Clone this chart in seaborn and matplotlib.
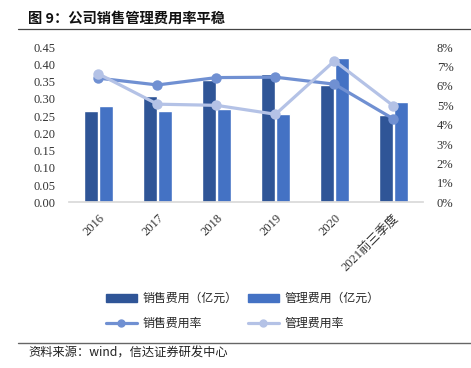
import pandas as pd
import matplotlib
matplotlib.use("Agg")
import matplotlib.pyplot as plt
import seaborn as sns
from matplotlib.lines import Line2D
from matplotlib.ticker import PercentFormatter, FormatStrFormatter

# data
years = ["2016", "2017", "2018", "2019", "2020", "2021前三季度"]
sales_cost = [0.266, 0.307, 0.355, 0.371, 0.340, 0.252]
mgmt_cost = [0.279, 0.264, 0.272, 0.255, 0.418, 0.290]
sales_rate = [0.0640, 0.0605, 0.0643, 0.0645, 0.0609, 0.0430]
mgmt_rate = [0.0662, 0.0506, 0.0500, 0.0454, 0.0729, 0.0497]

SALES_NAME = "销售费用（亿元）"
MGMT_NAME = "管理费用（亿元）"
SALES_RATE_NAME = "销售费用率"
MGMT_RATE_NAME = "管理费用率"

COLORS = {SALES_NAME: "#2F5597", MGMT_NAME: "#4472C4"}
RATE_COLORS = {SALES_RATE_NAME: "#7090D2", MGMT_RATE_NAME: "#B4C2E6"}

sns.set_theme(style="white")
plt.rcParams["font.family"] = ["Liberation Serif", "Noto Sans CJK SC", "DejaVu Sans"]

bars = pd.DataFrame({
    "year": years * 2,
    "value": sales_cost + mgmt_cost,
    "series": [SALES_NAME] * len(years) + [MGMT_NAME] * len(years),
})
rates = pd.DataFrame({
    "year": years * 2,
    "value": sales_rate + mgmt_rate,
    "series": [SALES_RATE_NAME] * len(years) + [MGMT_RATE_NAME] * len(years),
})

fig = plt.figure(figsize=(4.71, 3.68), dpi=100)
ax = fig.add_axes([0.1465, 0.450, 0.7515, 0.422])
ax2 = ax.twinx()

sns.barplot(data=bars, x="year", y="value", hue="series", palette=COLORS,
            width=0.53, gap=0.12, ax=ax, legend=False, saturation=1)
sns.lineplot(data=rates, x="year", y="value", hue="series", palette=RATE_COLORS,
             marker="o", markersize=7.5, markeredgewidth=0, linewidth=2.3,
             ax=ax2, legend=False, sort=False)

ax.set_ylim(0, 0.45)
ax.set_yticks([i * 0.05 for i in range(10)])
ax.yaxis.set_major_formatter(FormatStrFormatter("%.2f"))
ax2.set_ylim(0, 0.08)
ax2.set_yticks([i * 0.01 for i in range(9)])
ax2.yaxis.set_major_formatter(PercentFormatter(xmax=1, decimals=0))
ax.set_xlim(-0.5, len(years) - 0.5)

for a in (ax, ax2):
    a.set_xlabel("")
    a.set_ylabel("")
    for s in ("top", "left", "right"):
        a.spines[s].set_visible(False)
    a.spines["bottom"].set_color("#D9D9D9")
    a.tick_params(length=0, labelsize=9, colors="#333333")
    a.grid(False)
ax2.spines["bottom"].set_visible(False)
ax.tick_params(axis="y", pad=10)
ax2.tick_params(axis="y", pad=10)
ax.tick_params(axis="x", pad=7)
for lbl in ax.get_xticklabels():
    lbl.set_rotation(45)
    lbl.set_ha("right")
    lbl.set_rotation_mode("anchor")

# legend: bars on row one, rate lines on row two
handles = [
    plt.Rectangle((0, 0), 1, 1, color=COLORS[SALES_NAME]),
    Line2D([], [], color=RATE_COLORS[SALES_RATE_NAME], lw=2.3, marker="o", ms=5),
    plt.Rectangle((0, 0), 1, 1, color=COLORS[MGMT_NAME]),
    Line2D([], [], color=RATE_COLORS[MGMT_RATE_NAME], lw=2.3, marker="o", ms=5),
]
labels = [SALES_NAME, SALES_RATE_NAME, MGMT_NAME, MGMT_RATE_NAME]
fig.legend(handles, labels, ncol=2, loc="center", bbox_to_anchor=(0.515, 0.155),
           frameon=False, handlelength=2.6, handleheight=0.6, handletextpad=0.45,
           columnspacing=0.9, labelspacing=1.0,
           prop={"family": ["Noto Sans CJK SC"], "size": 8.6})

# title, rules and source note
fig.text(28 / 471, 1 - 19 / 368, "图 9：公司销售管理费用率平稳", fontsize=10.3,
         fontweight="bold", family=["Noto Sans CJK SC", "DejaVu Sans"],
         va="center", ha="left", color="#111111")
fig.add_artist(Line2D([18 / 471, 1.0], [1 - 29.3 / 368] * 2, color="#444444", lw=0.9))
fig.add_artist(Line2D([18 / 471, 1.0], [1 - 342.7 / 368] * 2, color="#666666", lw=1.0))
fig.text(28 / 471, 1 - 353 / 368, "资料来源：wind，信达证券研发中心", fontsize=8.8,
         style="italic", family=["Noto Sans CJK SC", "DejaVu Sans"],
         va="center", ha="left", color="#222222")

fig.savefig("out.png", dpi=100)
